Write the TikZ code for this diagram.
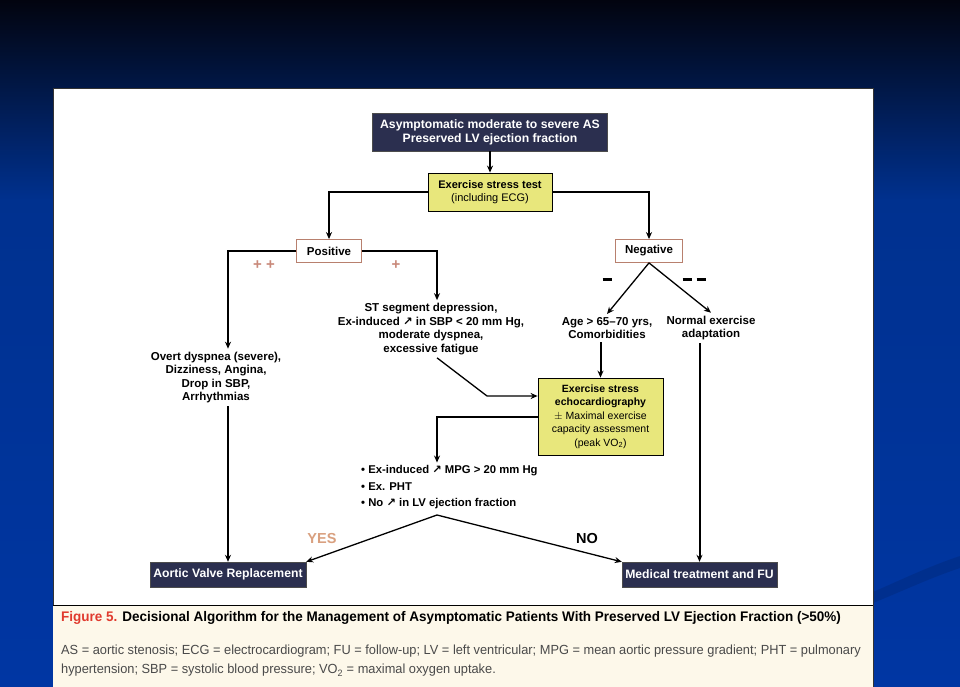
\documentclass[tikz,border=0pt]{standalone}
\usepackage{fontspec}
\setmainfont{Liberation Sans}
\newfontfamily\pfeilfont{DejaVu Sans}
\newfontfamily\capfont[FakeStretch=0.97]{Liberation Sans}
\usepackage{graphicx}
\usepackage{xcolor}
\usepackage{tikz}
\usetikzlibrary{
    arrows.meta,
    positioning
}

% Farben
\definecolor{navybox}{HTML}{2B2F4F}
\definecolor{gelb}{HTML}{E8E77C}
\definecolor{rahmenrot}{HTML}{B8806E}
\definecolor{plusrot}{HTML}{C9897A}
\definecolor{jafarbe}{HTML}{D9A07F}
\definecolor{bgtop}{HTML}{02040F}
\definecolor{bgmid}{HTML}{00318F}
\definecolor{bgbot}{HTML}{0036A3}
\definecolor{creme}{HTML}{FDF8EA}
\definecolor{figrot}{HTML}{E03A2E}
\definecolor{legendgrau}{HTML}{4A4A4A}

\newcommand{\steigt}{{\pfeilfont\char"2197}}
\newcommand{\balken}{\rule[1pt]{9pt}{3.5pt}}

\tikzstyle{arrow} = [
    line width=2pt,
    -{Stealth[length=7pt,width=6pt]}
]
\tikzstyle{thinarrow} = [
    line width=1.3pt,
    -{Stealth[length=7pt,width=6pt]}
]
\tikzstyle{darkbox} = [
    draw=black!70,
    fill=navybox,
    text=white,
    align=center,
    inner sep=2pt,
    font=\bfseries\fontsize{12.2}{14}\selectfont
]
\tikzstyle{yellowbox} = [
    draw=black,
    line width=0.8pt,
    fill=gelb,
    align=center,
    inner sep=2pt,
    font=\fontsize{10.5}{13.5}\selectfont
]
\tikzstyle{redbox} = [
    draw=rahmenrot,
    line width=0.8pt,
    fill=white,
    inner sep=2pt,
    font=\bfseries\fontsize{11.5}{12}\selectfont
]
\tikzstyle{flowtext} = [
    align=center,
    inner sep=3pt,
    font=\bfseries\fontsize{11.5}{13.5}\selectfont
]

\begin{document}
\begin{tikzpicture}[x=1pt, y=-1pt]
\useasboundingbox (0,0) rectangle (960,687);

% Hintergrund
\shade[top color=bgtop, bottom color=bgmid] (0,0) rectangle (960,201);
\shade[top color=bgmid, bottom color=bgbot] (0,200) rectangle (960,687);
\fill[black, opacity=0.1]
    (873,592) .. controls (905,578) and (930,566) .. (960,556)
    -- (960,568) .. controls (930,578) and (905,590) .. (873,603) -- cycle;

% Weisse Tafel und Legende
\filldraw[fill=white, draw=black!80, line width=0.6pt] (53,88) rectangle (873,690);
\fill[creme] (53,605) rectangle (873,690);
\draw[line width=0.6pt] (53,605) -- (873,605);

% Kaesten
\node[darkbox, minimum width=235pt, minimum height=38pt] (start) at (490,132)
    {Asymptomatic moderate to severe AS\\Preserved LV ejection fraction};
\node[yellowbox, minimum width=124pt, minimum height=38pt,
      font=\fontsize{11}{13.5}\selectfont] (belastung) at (490,192)
    {\textbf{Exercise stress test}\\(including ECG)};
\node[redbox, minimum width=65pt, minimum height=23pt] (pos) at (329,251) {Positive};
\node[redbox, minimum width=67pt, minimum height=23pt] (neg) at (649,251) {Negative};

% Zweige
\node[text=plusrot, font=\bfseries\fontsize{15}{15}\selectfont] (pp) at (264,265) {+ +};
\node[text=plusrot, font=\bfseries\fontsize{15}{15}\selectfont] (p) at (396,265) {+};
\node (m1) at (607,280) {\balken};
\node (m2) at (694,280) {\balken\hspace{5pt}\balken};

\node[flowtext] (symptome) at (216,377.5)
    {Overt dyspnea (severe),\\Dizziness, Angina,\\Drop in SBP,\\Arrhythmias};
\node[flowtext] (stsenkung) at (431,329)
    {ST segment depression,\\Ex-induced \steigt{} in SBP < 20 mm Hg,\\moderate dyspnea,\\excessive fatigue};
\node[flowtext] (alter) at (607,328) {Age > 65--70 yrs,\\Comorbidities};
\node[flowtext] (normal) at (711,328) {Normal exercise\\adaptation};

\node[yellowbox, minimum width=125pt, minimum height=77pt] (echo) at (600.5,416.5)
    {\textbf{Exercise stress}\\\textbf{echocardiography}\\$\pm$ Maximal exercise\\capacity assessment\\(peak VO\textsubscript{2})};

\node[flowtext, align=left, anchor=west, font=\bfseries\fontsize{11.3}{16.5}\selectfont]
    (kriterien) at (358,487.5)
    {\textbullet{} Ex-induced \steigt{} MPG > 20 mm Hg\\\textbullet{} Ex. PHT\\\textbullet{} No \steigt{} in LV ejection fraction};

\node[text=jafarbe, font=\bfseries\fontsize{14.5}{14.5}\selectfont] (ja) at (322,539) {YES};
\node[font=\bfseries\fontsize{14.5}{14.5}\selectfont] (nein) at (587,539) {NO};

\node[darkbox, minimum width=156pt, minimum height=25pt] (avr) at (228,574.5)
    {Aortic Valve Replacement};
\node[darkbox, minimum width=155pt, minimum height=25pt] (med) at (699.5,574.5)
    {Medical treatment and FU};

% Knickpunkte
\coordinate (knick) at (487,396);
\coordinate (spitze) at (437,515);

% Verbindungen
\draw[arrow] (start) -- (belastung);
\draw[arrow] (belastung.west) -| (pos.north);
\draw[arrow] (belastung.east) -| (neg.north);
\draw[arrow, line width=2.4pt] (pos.west) -| ([xshift=12pt]symptome.north);
\draw[arrow, line width=2.4pt] (pos.east) -| ([xshift=6pt]stsenkung.north);
\draw[thinarrow] (neg.south) -- (alter.north);
\draw[thinarrow] (neg.south) -- (normal.north);
\draw[arrow] (echo.north |- alter.south) -- (echo.north);
\draw[arrow] (med.north |- normal.south) -- (med.north);
\draw[thinarrow] ([xshift=6pt]stsenkung.south) -- (knick) -- (echo.west |- knick);
\draw[arrow] (echo.west) -| ([xshift=79pt]kriterien.north west);
\draw[thinarrow] (spitze) -- (avr.north east);
\draw[thinarrow] (spitze) -- (med.north west);
\draw[arrow] ([xshift=12pt]symptome.south) -- ([xshift=12pt]symptome.south |- avr.north);

% Bildunterschrift
\node[anchor=west, inner sep=0pt, font=\capfont\bfseries\fontsize{13.9}{16}\selectfont]
    (titel) at (61,618)
    {\textcolor{figrot}{Figure 5.} Decisional Algorithm for the Management of Asymptomatic Patients With Preserved LV Ejection Fraction (>50\%)};
\node[anchor=north west, align=left, inner sep=0pt, text=legendgrau,
      font=\capfont\fontsize{13.2}{19.5}\selectfont]
    (legende) at (61,644.5)
    {AS = aortic stenosis; ECG = electrocardiogram; FU = follow-up; LV = left ventricular; MPG = mean aortic pressure gradient; PHT = pulmonary\\
     hypertension; SBP = systolic blood pressure; VO\textsubscript{2} = maximal oxygen uptake.};
\end{tikzpicture}
\end{document}
